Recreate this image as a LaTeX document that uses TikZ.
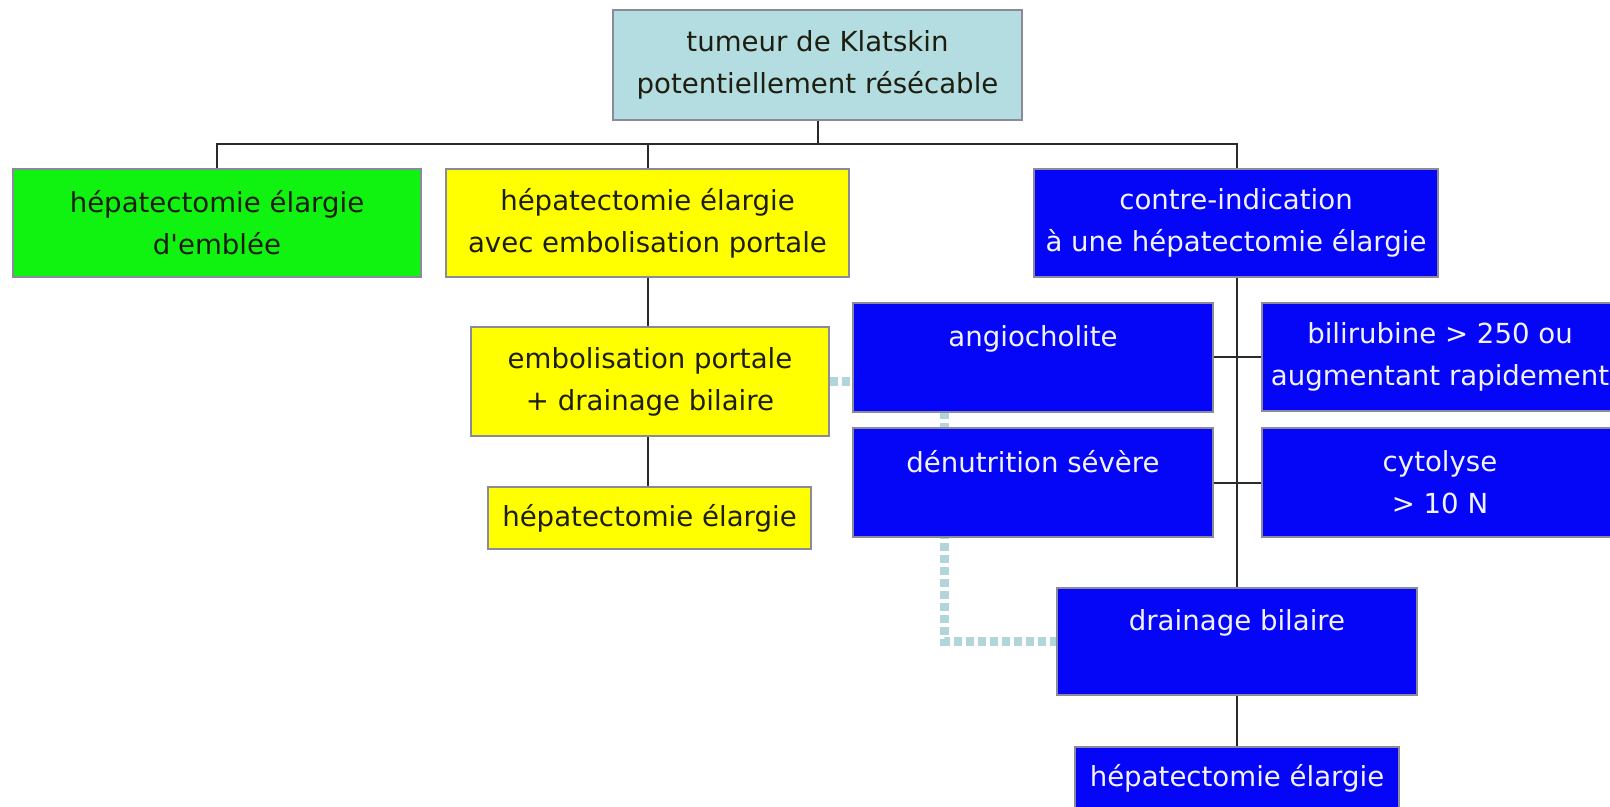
\documentclass[tikz,border=0pt]{standalone}
\usepackage{fontspec}
\newfontfamily\boxfont{DejaVu Sans}[Ligatures=TeXOff]
\usetikzlibrary{backgrounds}

\definecolor{boxline}{HTML}{8A8A9A}
\definecolor{linkcol}{HTML}{2A2A2A}
\definecolor{headfill}{HTML}{B3DDE0}
\definecolor{greenfill}{HTML}{10F210}
\definecolor{yellowfill}{HTML}{FFFF00}
\definecolor{bluefill}{HTML}{0505F8}
\definecolor{darktext}{HTML}{1E1E10}
\definecolor{lighttext}{HTML}{F2F2FF}
\definecolor{dotcol}{HTML}{B2D5D9}

\begin{document}
\begin{tikzpicture}[x=0.5pt, y=-0.5pt,
  box/.style={draw=boxline, line width=0.6pt, inner sep=0pt, align=center,
    font=\boxfont\fontsize{13.8}{21}\selectfont},
  lightbox/.style={box, text=darktext},
  bluebox/.style={box, fill=bluefill, text=lighttext},
  link/.style={draw=linkcol, line width=1pt},
  dotlink/.style={draw=dotcol, line width=4.5pt, dash pattern=on 4pt off 2pt}]

  \useasboundingbox (0,0) rectangle (1610,807);
  \clip (0,0) rectangle (1610,807);

  % root
  \node[lightbox, fill=headfill, minimum width=204.5pt, minimum height=55pt]
    (top) at (817.5,65) {tumeur de Klatskin\\potentiellement résécable};

  % first level
  \node[lightbox, fill=greenfill, minimum width=204pt, minimum height=54pt]
    (green) at (217,223) {hépatectomie élargie\\d'emblée};
  \node[lightbox, fill=yellowfill, minimum width=201.5pt, minimum height=54pt]
    (yel1) at (647.5,223) {hépatectomie élargie\\avec embolisation portale};
  \node[bluebox, minimum width=202pt, minimum height=54pt]
    (contre) at (1236,223) {contre-indication\\à une hépatectomie élargie};

  % portal embolisation branch
  \node[lightbox, fill=yellowfill, minimum width=179pt, minimum height=54.5pt]
    (embdrain) at (650,381.5) {embolisation portale\\+ drainage bilaire};
  \node[lightbox, fill=yellowfill, minimum width=161.5pt, minimum height=31pt]
    (hep2) at (649.5,518) {hépatectomie élargie};

  % contra-indications
  \node[bluebox, minimum width=180pt, minimum height=54.5pt]
    (angio) at (1033,357.5) {angiocholite\\\mbox{}};
  \node[bluebox, minimum width=180pt, minimum height=54.5pt]
    (denut) at (1033,482.5) {dénutrition sévère\\\mbox{}};
  \node[bluebox, minimum width=178pt, minimum height=54pt]
    (bili) at (1440,357) {bilirubine > 250 ou\\augmentant rapidement};
  \node[bluebox, minimum width=178pt, minimum height=54.5pt]
    (cyto) at (1440,482.5) {cytolyse\\> 10 N};

  % biliary drainage branch
  \node[bluebox, minimum width=180pt, minimum height=53.5pt]
    (drain) at (1237,641.5) {drainage bilaire\\\mbox{}};
  \node[bluebox, minimum width=162pt, minimum height=31pt]
    (hep3) at (1237,778) {hépatectomie élargie};

  % helper coordinates for the tree bus and spine
  \coordinate (busL) at (217,144);
  \coordinate (busR) at (1237,144);
  \coordinate (spine) at (1237,0);
  \coordinate (dotx) at (944,0);

  % tree connectors
  \draw[link] (top.south) -- (top.south |- busL);
  \draw[link] (green.north) -- (busL) -- (busR) -- (contre.north -| busR);
  \draw[link] (yel1.north) -- (yel1.north |- busL);
  \draw[link] (yel1.south) -- (yel1.south |- embdrain.north);
  \draw[link] (yel1.south |- embdrain.south) -- (yel1.south |- hep2.north);
  \draw[link] (contre.south -| spine) -- (drain.north -| spine);
  \draw[link] (angio.east) -- (bili.west |- angio.east);
  \draw[link] (denut.east) -- (cyto.west |- denut.east);
  \draw[link] (drain.south -| spine) -- (hep3.north -| spine);

  % white page and dotted link, both behind the boxes
  \begin{pgfonlayer}{background}
    \fill[white] (0,0) rectangle (1610,807);
    \draw[dotlink] (embdrain.east) -| (dotx |- drain.west) -- (drain.west);
  \end{pgfonlayer}
\end{tikzpicture}
\end{document}
